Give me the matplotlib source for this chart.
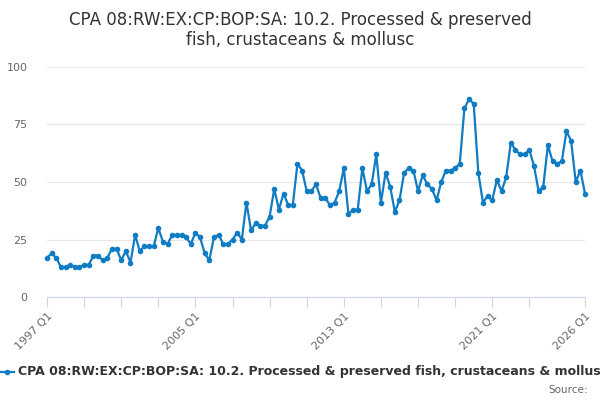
import numpy as np
import matplotlib
matplotlib.use("Agg")
import matplotlib.pyplot as plt
from matplotlib.lines import Line2D

# quarterly values, 1997 Q1 .. 2026 Q1
values = [
    17, 19, 17, 13,
    13, 14, 13, 13,
    14, 14, 18, 18,
    16, 17, 21, 21,
    16, 20, 15, 27,
    20, 22, 22, 22,
    30, 24, 23, 27,
    27, 27, 26, 23,
    28, 26, 19, 16,
    26, 27, 23, 23,
    25, 28, 25, 41,
    29, 32, 31, 31,
    35, 47, 38, 45,
    40, 40, 58, 55,
    46, 46, 49, 43,
    43, 40, 41, 46,
    56, 36, 38, 38,
    56, 46, 49, 62,
    41, 54, 48, 37,
    42, 54, 56, 55,
    46, 53, 49, 47,
    42, 50, 55, 55,
    56, 58, 82, 86,
    84, 54, 41, 44,
    42, 51, 46, 52,
    67, 64, 62, 62,
    64, 57, 46, 48,
    66, 59, 58, 59,
    72, 68, 50, 55,
    45,
]
quarters = [f"{1997 + i // 4} Q{i % 4 + 1}" for i in range(len(values))]
labelled = ["1997 Q1", "2005 Q1", "2013 Q1", "2021 Q1", "2026 Q1"]
yticks = [0, 25, 50, 75, 100]

series_name = "CPA 08:RW:EX:CP:BOP:SA: 10.2. Processed & preserved fish, crustaceans & mollusc"
title = "CPA 08:RW:EX:CP:BOP:SA: 10.2. Processed & preserved\nfish, crustaceans & mollusc"

blue = "#0f7cc3"
grey = "#666666"

fig = plt.figure(figsize=(6, 4), dpi=100)
ax = fig.add_axes([47 / 600, 103 / 400, 538 / 600, 230 / 400])

x = np.arange(len(values))
ax.plot(x, values, color=blue, lw=1.6, marker="o", ms=3, clip_on=False)

ax.set_xlim(0, len(values) - 1)
ax.set_ylim(0, 100)

ax.set_yticks(yticks)
ax.set_yticklabels([str(t) for t in yticks], color=grey, fontsize=8)
ax.tick_params(axis="y", length=0, pad=14)
ax.grid(axis="y", color="#e6e6e6", lw=0.8)
ax.set_axisbelow(True)

tick_pos = list(range(0, len(values) - 8, 8)) + [len(values) - 1]
ax.set_xticks(tick_pos)
ax.set_xticklabels([quarters[p] if quarters[p] in labelled else "" for p in tick_pos],
                   rotation=45, ha="right", rotation_mode="anchor",
                   color=grey, fontsize=8)
ax.tick_params(axis="x", length=7, color="#ccd6eb", pad=3)

for s in ["left", "right", "top"]:
    ax.spines[s].set_visible(False)
ax.spines["bottom"].set_color("#ccd6eb")

fig.text(0.5, 1 - 30 / 400, title, ha="center", va="center",
         fontsize=12, color="#333333", linespacing=1.15)

# legend drawn by hand so it can run off the right edge like the original
fig.add_artist(Line2D([0, 14 / 600], [1 - 372 / 400] * 2, color=blue, lw=1.6,
                      transform=fig.transFigure))
fig.add_artist(Line2D([7 / 600], [1 - 372 / 400], color=blue, marker="o", ms=3,
                      transform=fig.transFigure))
fig.text(18 / 600, 1 - 372 / 400, series_name, ha="left", va="center",
         fontsize=9, fontweight="bold", color="#333333")
fig.text(588 / 600, 1 - 390 / 400, "Source:", ha="right", va="center",
         fontsize=7.5, color=grey)

fig.savefig("out.png", dpi=100)
